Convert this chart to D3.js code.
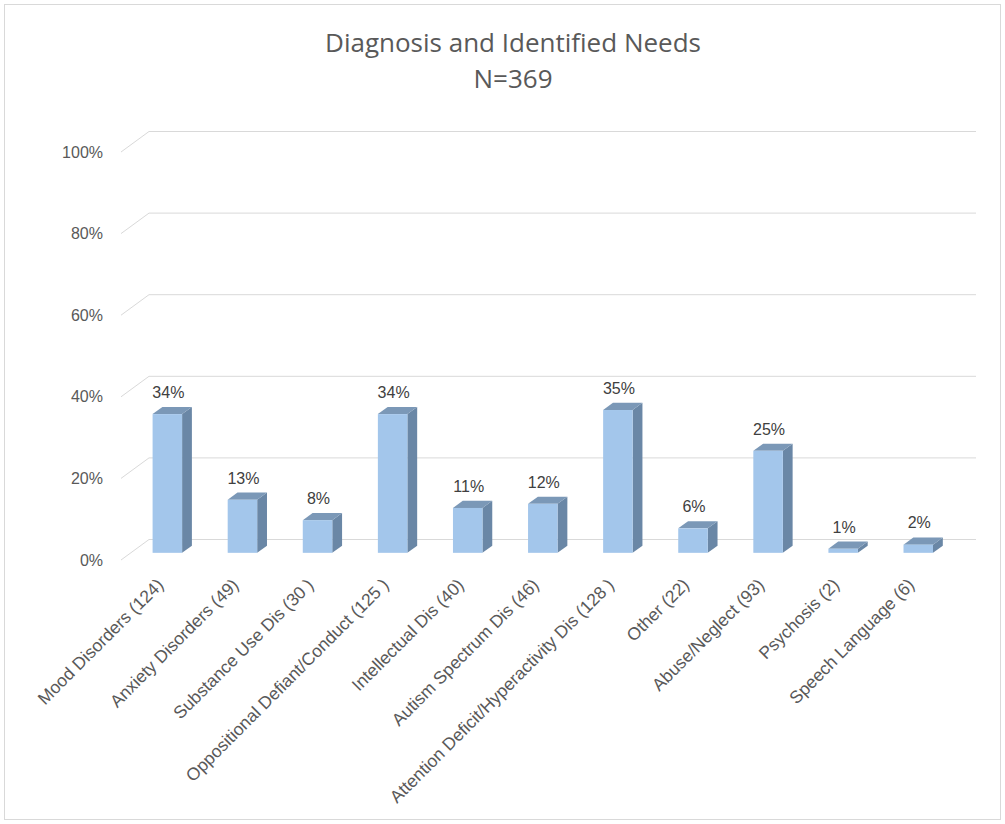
<!DOCTYPE html>
<html>
<head>
<meta charset="utf-8">
<script src="https://cdn.jsdelivr.net/npm/d3@7"></script>
<style>
  html, body { margin: 0; padding: 0; background: #ffffff; }
  svg { display: block; }
</style>
</head>
<body>
<svg id="chart" width="1005" height="824"></svg>
<script>
// Diagnosis categories (with counts) and their share of N=369, in percent
const categories = [
  "Mood Disorders (124)",
  "Anxiety Disorders (49)",
  "Substance Use Dis (30 )",
  "Oppositional Defiant/Conduct (125 )",
  "Intellectual Dis (40)",
  "Autism Spectrum Dis (46)",
  "Attention Deficit/Hyperactivity Dis (128 )",
  "Other (22)",
  "Abuse/Neglect (93)",
  "Psychosis (2)",
  "Speech Language (6)"
];
const percents = [34, 13, 8, 34, 11, 12, 35, 6, 25, 1, 2];
const yTicks = [0, 20, 40, 60, 80, 100];
const titleLines = ["Diagnosis and Identified Needs", "N=369"];

const svg = d3.select("#chart");

// Chart frame
svg.append("rect")
  .attr("x", 4.5).attr("y", 4.5)
  .attr("width", 996).attr("height", 815)
  .attr("fill", "#ffffff")
  .attr("stroke", "#d9d9d9")
  .attr("stroke-width", 1);

// Title
svg.append("g").selectAll("text")
  .data(titleLines)
  .join("text")
  .attr("x", 513)
  .attr("y", (d, i) => 52 + i * 36)
  .attr("text-anchor", "middle")
  .attr("font-family", "'Open Sans', Lato, sans-serif")
  .attr("font-size", 26)
  .attr("fill", "#595959")
  .text(d => d);

// Front plane scales; the back wall sits one full depth behind it
const x = d3.scaleBand().domain(categories).range([120, 946]).padding(0);
const y = d3.scaleLinear().domain([0, 100]).range([560, 152]);
const depth = { dx: 28, dy: -20.5 };
const off = z => [depth.dx * z, depth.dy * z];
const axisX = 121;
const wallRight = 976;

// Back-wall gridlines and the slanted side-wall lines
const grid = svg.append("g");
grid.selectAll("line.back")
  .data(yTicks)
  .join("line")
  .attr("class", "back")
  .attr("x1", axisX + depth.dx).attr("x2", wallRight)
  .attr("y1", d => y(d) + depth.dy).attr("y2", d => y(d) + depth.dy)
  .attr("stroke", "#d9d9d9").attr("stroke-width", 1);
grid.selectAll("line.side")
  .data(yTicks)
  .join("line")
  .attr("class", "side")
  .attr("x1", axisX).attr("y1", d => y(d))
  .attr("x2", axisX + depth.dx).attr("y2", d => y(d) + depth.dy)
  .attr("stroke", "#d9d9d9").attr("stroke-width", 1);

// Y tick labels
svg.append("g").selectAll("text")
  .data(yTicks)
  .join("text")
  .attr("x", 103)
  .attr("y", d => y(d))
  .attr("dy", "0.35em")
  .attr("text-anchor", "end")
  .attr("font-family", "'Liberation Sans', Arial, sans-serif")
  .attr("font-size", 16)
  .attr("fill", "#595959")
  .text(d => d + "%");

// 3D columns: front face at 35% depth, back face at 70% depth
const zFront = 0.35, zBack = 0.70;
const barW = 29.5;
const [fdx, fdy] = off(zFront);
const [bdx, bdy] = off(zBack);
const sx = bdx - fdx, sy = bdy - fdy;

const bars = svg.append("g").selectAll("g")
  .data(categories.map((c, i) => ({ c, v: percents[i] })))
  .join("g");

bars.each(function(d) {
  const g = d3.select(this);
  const left = x(d.c) + (x.bandwidth() - barW) / 2 + fdx;
  const right = left + barW;
  const bottom = y(0) + fdy;
  const top = y(d.v) + fdy;
  // side face
  g.append("polygon")
    .attr("points", [[right, top], [right + sx, top + sy], [right + sx, bottom + sy], [right, bottom]].join(" "))
    .attr("fill", "#6a87a6");
  // top face
  g.append("polygon")
    .attr("points", [[left, top], [left + sx, top + sy], [right + sx, top + sy], [right, top]].join(" "))
    .attr("fill", "#7b98b7");
  // front face
  g.append("rect")
    .attr("x", left).attr("y", top)
    .attr("width", barW).attr("height", bottom - top)
    .attr("fill", "#a3c6eb");
  // value label
  g.append("text")
    .attr("x", left + barW / 2 + 1)
    .attr("y", top + sy - 9)
    .attr("text-anchor", "middle")
    .attr("font-family", "'Liberation Sans', Arial, sans-serif")
    .attr("font-size", 16)
    .attr("fill", "#404040")
    .text(d.v + "%");
});

// Category labels, rotated 45 degrees
svg.append("g").selectAll("text")
  .data(categories)
  .join("text")
  .attr("transform", d => `translate(${x(d) + x.bandwidth() / 2 + 7},${586}) rotate(-45)`)
  .attr("text-anchor", "end")
  .attr("font-family", "'Liberation Sans', Arial, sans-serif")
  .attr("font-size", 17.5)
  .attr("fill", "#595959")
  .text(d => d);
</script>
</body>
</html>
